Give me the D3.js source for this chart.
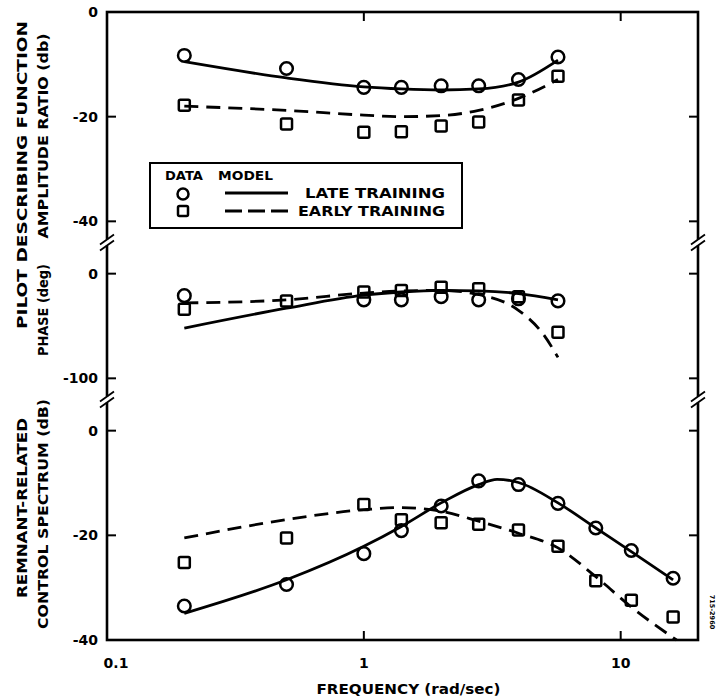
<!DOCTYPE html>
<html>
<head>
<meta charset="utf-8">
<script src="https://cdn.jsdelivr.net/npm/d3@7"></script>
<style>
  html, body { margin: 0; padding: 0; background: #fff; }
  svg text { font-family: "DejaVu Sans", "Liberation Sans", sans-serif; font-weight: bold; fill: #000; }
</style>
</head>
<body>
<svg id="chart" width="719" height="698"></svg>
<script>
// frequencies (rad/sec)
const freqs = [0.2, 0.5, 1, 1.4, 2, 2.8, 4, 5.7];
const freqsRem = [0.2, 0.5, 1, 1.4, 2, 2.8, 4, 5.7, 8, 11, 16];

// amplitude ratio (dB)
const ampLate = [-8.3, -10.8, -14.4, -14.4, -14.1, -14.1, -12.9, -8.6];
const ampEarly = [-17.8, -21.4, -23.0, -22.9, -21.8, -21.0, -16.8, -12.3];
const ampLateModel = [-9.5, -12.6, -14.3, -14.7, -14.9, -14.7, -13.4, -9.2];
const ampEarlyModel = [-18.0, -18.8, -19.7, -20.0, -19.8, -18.8, -16.5, -12.9];

// phase (deg)
const phLate = [-21, null, -25, -25, -22, -25, -24, -26];
const phEarly = [-34, -26, -17.5, -16, -13, -14.5, -22, -56];
const phLateModel = [-52, -33, -20.5, -17.5, -16, -16.5, -19, -25];
const phEarlyModelF = [0.2, 0.5, 1, 1.4, 2, 2.8, 4, 5, 5.7];
const phEarlyModel = [-28, -25, -18.5, -16.5, -16, -20, -35, -58, -80];

// remnant-related control spectrum (dB)
const remLate = [-33.5, -29.4, -23.5, -19.1, -14.4, -9.6, -10.3, -13.9, -18.6, -22.9, -28.2];
const remEarly = [-25.2, -20.5, -14.1, -17.0, -17.6, -17.9, -19.0, -22.1, -28.7, -32.4, -35.6];
const remLateModelF = [0.2, 0.5, 1, 1.4, 2, 2.8, 3.3, 4, 5.7, 8, 11, 16];
const remLateModel = [-34.9, -28.5, -22.1, -18.3, -13.8, -10.3, -9.3, -9.9, -13.8, -18.6, -23.1, -28.5];
const remEarlyModelF = [0.2, 0.5, 1, 1.4, 2, 2.8, 4, 5.7, 8, 11, 16.5];
const remEarlyModel = [-20.5, -17.0, -15.1, -14.7, -15.4, -17.3, -19.6, -22.4, -27.9, -33.7, -40];

// ticks
const xTicks = [0.1, 1, 10];
const ampTicks = [0, -20, -40];
const phTicks = [0, -100];
const remTicks = [0, -20, -40];

const svg = d3.select('#chart');
const pLeft = 107, pRight = 698, pTop = 12, pBottom = 640;

const x = d3.scaleLog().domain([0.1, 20]).range([pLeft, pRight]);
const div = (pBottom - pTop) / 6;
const yAmp = d3.scaleLinear().domain([0, -40]).range([pTop, pTop + 2 * div]);
const yPh = d3.scaleLinear().domain([0, -100]).range([pTop + 2.5 * div, pTop + 3.5 * div]);
const yRem = d3.scaleLinear().domain([0, -40]).range([pTop + 4 * div, pBottom]);

const ink = '#000';
const sw = 2.6;

// frame
svg.append('rect')
  .attr('x', pLeft).attr('y', pTop)
  .attr('width', pRight - pLeft).attr('height', pBottom - pTop)
  .attr('fill', 'none').attr('stroke', ink).attr('stroke-width', sw);

// left & right ticks + labels
const panels = [
  { y: yAmp, ticks: ampTicks },
  { y: yPh, ticks: phTicks },
  { y: yRem, ticks: remTicks }
];
panels.forEach(p => {
  const g = svg.append('g');
  const inner = p.ticks.filter(t => p.y(t) > pTop + 2 && p.y(t) < pBottom - 2);
  g.selectAll('line.l').data(inner)
    .enter().append('line')
    .attr('x1', pLeft).attr('x2', pLeft + 9)
    .attr('y1', d => p.y(d)).attr('y2', d => p.y(d))
    .attr('stroke', ink).attr('stroke-width', 2);
  g.selectAll('line.r').data(inner)
    .enter().append('line')
    .attr('x1', pRight).attr('x2', pRight - 9)
    .attr('y1', d => p.y(d)).attr('y2', d => p.y(d))
    .attr('stroke', ink).attr('stroke-width', 2);
  g.selectAll('text').data(p.ticks)
    .enter().append('text')
    .attr('x', pLeft - 9)
    .attr('y', d => p.y(d))
    .attr('dy', '0.36em')
    .attr('text-anchor', 'end')
    .attr('font-size', 14)
    .text(d => d === 0 ? '0' : '-' + Math.abs(d));
});

// axis break marks
const breaks = [(yAmp(-40) + yPh(0)) / 2 - 5, (yPh(-100) + yRem(0)) / 2 - 5];
breaks.forEach(by => {
  [pLeft, pRight].forEach(bx => {
    svg.append('rect')
      .attr('x', bx - 3).attr('y', by - 3).attr('width', 6).attr('height', 6)
      .attr('fill', '#fff');
    [-3, 3].forEach(off => {
      svg.append('line')
        .attr('x1', bx - 7).attr('y1', by + off + 5)
        .attr('x2', bx + 7).attr('y2', by + off - 5)
        .attr('stroke', ink).attr('stroke-width', 1.8);
    });
  });
});

// x ticks top & bottom
const xInner = xTicks.filter(t => t > 0.1);
svg.selectAll('line.xt').data(xInner)
  .enter().append('line')
  .attr('x1', d => x(d)).attr('x2', d => x(d))
  .attr('y1', pBottom).attr('y2', pBottom - 9)
  .attr('stroke', ink).attr('stroke-width', 2);
svg.selectAll('line.xtt').data(xInner)
  .enter().append('line')
  .attr('x1', d => x(d)).attr('x2', d => x(d))
  .attr('y1', pTop).attr('y2', pTop + 9)
  .attr('stroke', ink).attr('stroke-width', 2);
svg.selectAll('text.xl').data(xTicks)
  .enter().append('text')
  .attr('x', d => d === 0.1 ? x(d) + 9 : x(d))
  .attr('y', pBottom + 28)
  .attr('text-anchor', 'middle')
  .attr('font-size', 14)
  .text(d => d);

svg.append('text')
  .attr('x', (pLeft + pRight) / 2 + 6).attr('y', 694)
  .attr('text-anchor', 'middle').attr('font-size', 14)
  .attr('textLength', 184).attr('lengthAdjust', 'spacingAndGlyphs')
  .text('FREQUENCY (rad/sec)');

// y axis titles
function vtext(tx, ty, str, len) {
  svg.append('text')
    .attr('transform', `translate(${tx},${ty}) rotate(-90)`)
    .attr('text-anchor', 'middle')
    .attr('font-size', 14)
    .attr('textLength', len)
    .attr('lengthAdjust', 'spacingAndGlyphs')
    .text(str);
}
vtext(27, 175, 'PILOT DESCRIBING FUNCTION', 308);
vtext(48, 136, 'AMPLITUDE RATIO (db)', 205);
vtext(48, 310, 'PHASE (deg)', 92);
vtext(27, 508, 'REMNANT-RELATED', 180);
vtext(48, 514, 'CONTROL SPECTRUM (dB)', 230);

// small figure number at the right edge
svg.append('text')
  .attr('transform', `translate(710,612) rotate(90)`)
  .attr('text-anchor', 'middle')
  .attr('font-size', 6.5)
  .text('715-2960');

// curves
const solid = null, dashed = '14,8';
function curve(fs, vs, yS, dash) {
  const pts = fs.map((f, i) => [f, vs[i]]).filter(d => d[1] != null);
  svg.append('path')
    .datum(pts)
    .attr('fill', 'none')
    .attr('stroke', ink)
    .attr('stroke-width', 2.8)
    .attr('stroke-dasharray', dash)
    .attr('d', d3.line().x(d => x(d[0])).y(d => yS(d[1])).curve(d3.curveMonotoneX));
}
curve(freqs, ampLateModel, yAmp, solid);
curve(freqs, ampEarlyModel, yAmp, dashed);
curve(freqs, phLateModel, yPh, solid);
curve(phEarlyModelF, phEarlyModel, yPh, dashed);
curve(remLateModelF, remLateModel, yRem, solid);
curve(remEarlyModelF, remEarlyModel, yRem, dashed);

// markers
function circles(fs, vs, yS) {
  svg.append('g').selectAll('circle')
    .data(fs.map((f, i) => [f, vs[i]]).filter(d => d[1] != null))
    .enter().append('circle')
    .attr('cx', d => x(d[0])).attr('cy', d => yS(d[1]))
    .attr('r', 6.3)
    .attr('fill', 'none').attr('stroke', ink).attr('stroke-width', 2.5);
}
function squares(fs, vs, yS) {
  svg.append('g').selectAll('rect')
    .data(fs.map((f, i) => [f, vs[i]]).filter(d => d[1] != null))
    .enter().append('rect')
    .attr('x', d => x(d[0]) - 5.5).attr('y', d => yS(d[1]) - 5.5)
    .attr('width', 11).attr('height', 11).attr('rx', 1.5)
    .attr('fill', 'none').attr('stroke', ink).attr('stroke-width', 2.5);
}
circles(freqs, ampLate, yAmp);
squares(freqs, ampEarly, yAmp);
circles(freqs, phLate, yPh);
squares(freqs, phEarly, yPh);
circles(freqsRem, remLate, yRem);
squares(freqsRem, remEarly, yRem);

// legend
const lg = svg.append('g');
lg.append('rect')
  .attr('x', 150).attr('y', 163).attr('width', 312).attr('height', 65)
  .attr('fill', '#fff').attr('stroke', ink).attr('stroke-width', 2);
lg.append('text').attr('x', 165).attr('y', 180).attr('font-size', 13)
  .attr('textLength', 38).attr('lengthAdjust', 'spacingAndGlyphs').text('DATA');
lg.append('text').attr('x', 218).attr('y', 180).attr('font-size', 13)
  .attr('textLength', 55).attr('lengthAdjust', 'spacingAndGlyphs').text('MODEL');
lg.append('circle').attr('cx', 183).attr('cy', 194).attr('r', 5.5)
  .attr('fill', 'none').attr('stroke', ink).attr('stroke-width', 2.5);
lg.append('rect').attr('x', 178).attr('y', 206).attr('width', 10).attr('height', 10).attr('rx', 1.5)
  .attr('fill', 'none').attr('stroke', ink).attr('stroke-width', 2.5);
lg.append('line').attr('x1', 225).attr('x2', 288).attr('y1', 193).attr('y2', 193)
  .attr('stroke', ink).attr('stroke-width', 2.8);
lg.append('line').attr('x1', 225).attr('x2', 288).attr('y1', 211).attr('y2', 211)
  .attr('stroke', ink).attr('stroke-width', 2.8).attr('stroke-dasharray', '17,6');
lg.append('text').attr('x', 305).attr('y', 198)
  .attr('font-size', 13.5).attr('textLength', 140).attr('lengthAdjust', 'spacingAndGlyphs')
  .text('LATE TRAINING');
lg.append('text').attr('x', 298).attr('y', 216)
  .attr('font-size', 13.5).attr('textLength', 147).attr('lengthAdjust', 'spacingAndGlyphs')
  .text('EARLY TRAINING');
</script>
</body>
</html>
